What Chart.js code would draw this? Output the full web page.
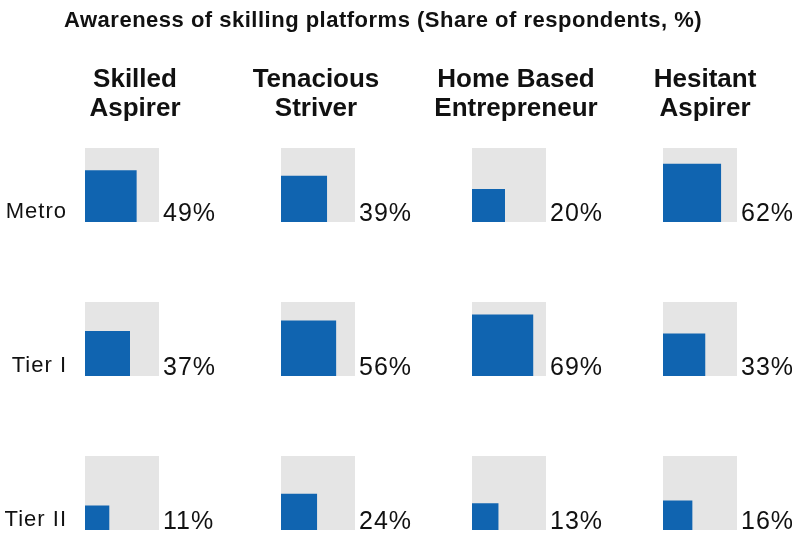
<!DOCTYPE html>
<html>
<head>
<meta charset="utf-8">
<script src="https://cdn.jsdelivr.net/npm/chart.js@4.4.1/dist/chart.umd.min.js"></script>
<style>
  html, body { margin: 0; background: #fff; }
</style>
</head>
<body>
<canvas id="chart" width="792" height="536"></canvas>
<script>
const segments = [["Skilled", "Aspirer"], ["Tenacious", "Striver"], ["Home Based", "Entrepreneur"], ["Hesitant", "Aspirer"]];
const tiers = ["Metro", "Tier I", "Tier II"];
const metro = [49, 39, 20, 62];
const tierOne = [37, 56, 69, 33];
const tierTwo = [11, 24, 13, 16];
const rows = [metro, tierOne, tierTwo];

// layout (scale units = canvas pixels)
const COL_LEFT = [85, 281, 472, 663];
const HEADER_X = [135, 316, 516, 705];
const ROW_BOTTOM = [222, 376, 530];
const CELL = 74;

const BLUE = "#1064b0";
const GREY = "#e5e5e5";
const FONT = "'Liberation Sans', Arial, sans-serif";

// square with area proportional to the share, anchored bottom-left
function square(col, row, pct, color) {
  const side = CELL * Math.sqrt(pct / 100);
  const left = COL_LEFT[col];
  const bottom = ROW_BOTTOM[row];
  return {
    data: [{ x: left, y: bottom - side }, { x: left + side, y: bottom - side }],
    fill: { value: bottom },
    backgroundColor: color,
    borderWidth: 0,
    borderColor: "transparent",
    pointRadius: 0,
    tension: 0,
  };
}

const datasets = [];
rows.forEach((vals, r) => vals.forEach((v, c) => datasets.push(square(c, r, v, BLUE))));
rows.forEach((vals, r) => vals.forEach((v, c) => datasets.push(square(c, r, 100, GREY))));

const labels = {
  id: "labels",
  afterDraw(chart) {
    const { ctx, scales: { x, y } } = chart;
    ctx.save();
    ctx.fillStyle = "#111";
    ctx.textBaseline = "alphabetic";

    ctx.letterSpacing = "0.5px";
    ctx.font = "bold 22px " + FONT;
    ctx.textAlign = "left";
    ctx.fillText("Awareness of skilling platforms (Share of respondents, %)", 64, 27);

    ctx.letterSpacing = "0px";
    ctx.font = "bold 26px " + FONT;
    ctx.textAlign = "center";
    segments.forEach((lines, c) => {
      lines.forEach((t, i) => ctx.fillText(t, HEADER_X[c], 87 + i * 29));
    });

    ctx.letterSpacing = "1px";
    ctx.font = "22px " + FONT;
    ctx.textAlign = "right";
    tiers.forEach((t, r) => ctx.fillText(t, 67, y.getPixelForValue(ROW_BOTTOM[r]) - 4));

    ctx.font = "25px " + FONT;
    ctx.textAlign = "left";
    rows.forEach((vals, r) => vals.forEach((v, c) => {
      ctx.fillText(v + "%", x.getPixelForValue(COL_LEFT[c] + CELL) + 4, y.getPixelForValue(ROW_BOTTOM[r]) - 1);
    }));
    ctx.restore();
  },
};

new Chart(document.getElementById("chart"), {
  type: "line",
  data: { datasets },
  options: {
    responsive: false,
    animation: false,
    devicePixelRatio: 1,
    layout: { padding: 0 },
    plugins: { legend: { display: false }, tooltip: { enabled: false } },
    scales: {
      x: { type: "linear", min: 0, max: 792, display: false },
      y: { type: "linear", min: 0, max: 536, reverse: true, display: false },
    },
  },
  plugins: [labels],
});
</script>
</body>
</html>
